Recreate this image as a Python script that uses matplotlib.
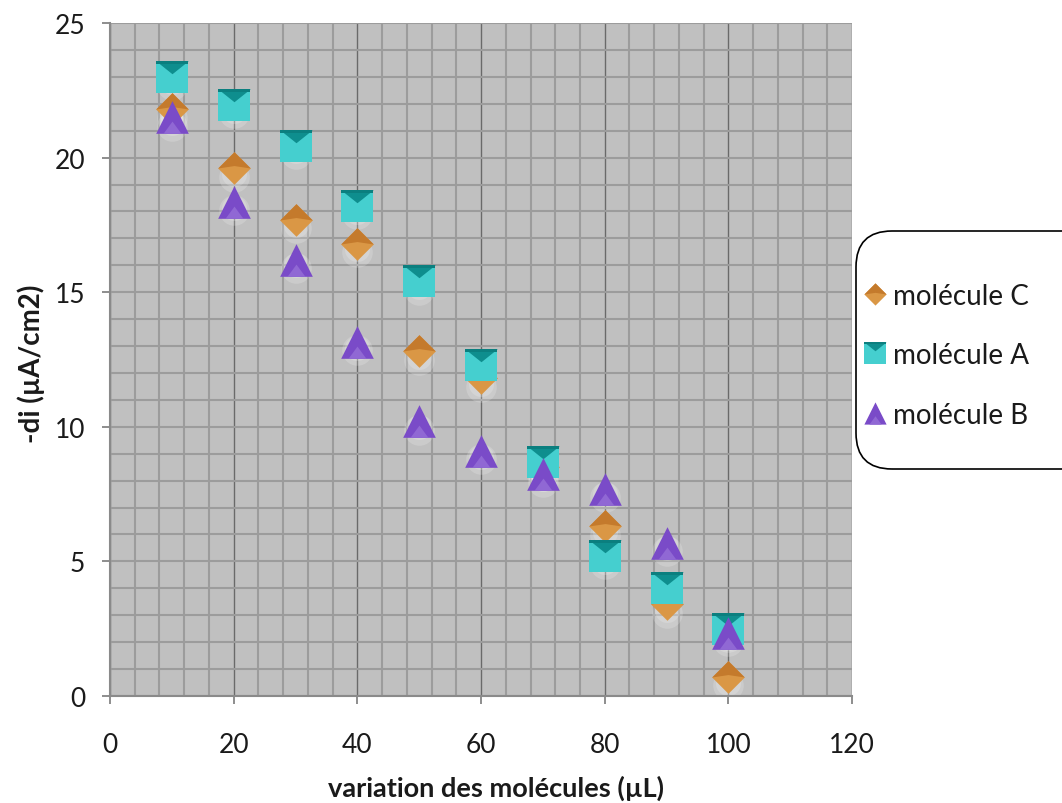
import matplotlib
matplotlib.use("Agg")
import matplotlib.pyplot as plt
from matplotlib.path import Path
from matplotlib.lines import Line2D
from matplotlib.patches import FancyBboxPatch
from matplotlib.ticker import MultipleLocator
from matplotlib.legend_handler import HandlerTuple
from matplotlib.transforms import offset_copy, IdentityTransform

plt.rcParams['font.family'] = ['Lato', 'DejaVu Sans']

# volumes added (µL)
volumes = [10, 20, 30, 40, 50, 60, 70, 80, 90, 100]
# -di (µA/cm2) per molecule
mol_c = [21.8, 19.6, 17.7, 16.8, 12.8, 11.8, 8.5, 6.3, 3.4, 0.7]
mol_a = [23.0, 21.95, 20.45, 18.2, 15.4, 12.3, 8.7, 5.2, 4.0, 2.5]
mol_b = [21.5, 18.35, 16.2, 13.15, 10.2, 9.1, 8.25, 7.7, 5.7, 2.35]

series_names = ["molécule C", "molécule A", "molécule B"]
x_ticks = [0, 20, 40, 60, 80, 100, 120]
y_ticks = [0, 5, 10, 15, 20, 25]

def shape(verts):
    return Path(verts + [verts[0]], closed=True)

# marker shapes (base + shading facet)
SQUARE = shape([(-1, -1), (1, -1), (1, 1), (-1, 1)])
SQUARE_TOP = shape([(-1, 1), (1, 1), (0, 0.2)])
SQUARE_BAND = shape([(-1, 1), (1, 1), (1, 0.8), (-1, 0.8)])
DIAMOND = shape([(0, 1), (1, 0), (0, -1), (-1, 0)])
DIAMOND_TOP = shape([(0, 1), (1, 0), (0, 0.15), (-1, 0)])
TRIANGLE = shape([(0, 1), (1, -1), (-1, -1)])
TRIANGLE_LOW = shape([(-0.55, -1), (0.55, -1), (0, -0.25)])

styles = {
    "molécule C": [(DIAMOND, "#DA9745"), (DIAMOND_TOP, "#C47A2C")],
    "molécule A": [(SQUARE, "#45CFCF"), (SQUARE_TOP, "#0E8E8E"), (SQUARE_BAND, "#0B7F7F")],
    "molécule B": [(TRIANGLE, "#7A4BC8"), (TRIANGLE_LOW, "#9068D4")],
}
data = {"molécule C": mol_c, "molécule A": mol_a, "molécule B": mol_b}

fig = plt.figure(figsize=(10.62, 8.04), dpi=100)
fig.patch.set_facecolor("white")
ax = fig.add_axes([0.1036, 0.1331, 0.6987, 0.8370])
ax.set_facecolor("#C0C0C0")
ax.set_xlim(0, 120)
ax.set_ylim(0, 25)

ax.xaxis.set_major_locator(MultipleLocator(20))
ax.xaxis.set_minor_locator(MultipleLocator(4))
ax.yaxis.set_major_locator(MultipleLocator(5))
ax.yaxis.set_minor_locator(MultipleLocator(1))
ax.grid(which="minor", color="#9C9C9C", lw=1.5)
ax.grid(which="major", axis="y", color="#9C9C9C", lw=1.5)
ax.grid(which="major", axis="x", color="#6A6A6A", lw=1.0)
ax.set_axisbelow(True)

for s in ("top", "right"):
    ax.spines[s].set_visible(False)
for s in ("left", "bottom"):
    ax.spines[s].set_color("#8A8A8A")
    ax.spines[s].set_linewidth(1.5)

ax.tick_params(which="minor", length=0)
ax.tick_params(which="major", direction="out", length=6, width=1.2,
               color="#7A7A7A", labelsize=19, labelcolor="#1A1A1A")
ax.tick_params(axis="y", pad=12)
ax.tick_params(axis="x", pad=20)
ax.set_xticks(x_ticks)
ax.set_yticks(y_ticks)

ax.set_xlabel("variation des molécules (µL)", fontsize=19.5, fontweight="bold",
              color="#1A1A1A")
ax.set_ylabel("-di (µA/cm2)", fontsize=20, fontweight="bold",
              color="#1A1A1A")
ax.xaxis.set_label_coords(0.52, -0.117, transform=ax.transAxes)
ax.yaxis.set_label_coords(-0.088, 0.495, transform=ax.transAxes)

# soft light halo under each marker
for dy, a, s in ((-6, 0.18, 22), (-4, 0.18, 18)):
    halo = offset_copy(ax.transData, fig=fig, x=0, y=dy, units="points")
    for name in series_names:
        ax.plot(volumes, data[name], ls="none", marker="o", ms=s, mew=0,
                color="white", alpha=a, transform=halo, zorder=2)

MS = 23.5
for i, name in enumerate(series_names):
    for j, (path, col) in enumerate(styles[name]):
        ax.plot(volumes, data[name], ls="none", marker=path, ms=MS, mew=0,
                color=col, zorder=3 + i + 0.1 * j)

# legend with layered markers
handles = []
for name in series_names:
    layers = tuple(Line2D([], [], ls="none", marker=p, ms=16, mew=0, color=c)
                   for p, c in styles[name])
    handles.append(layers)

leg = fig.legend(handles, series_names, loc="center left",
                 bbox_to_anchor=(0.789, 0.557), frameon=False, fontsize=20,
                 handler_map={tuple: HandlerTuple(ndivide=1, pad=0)},
                 handlelength=0.9, handletextpad=0.2, labelspacing=1.2,
                 labelcolor="#1A1A1A")

# rounded frame around the legend, running off the right edge
box = FancyBboxPatch((856, 804 - 470), 260, 238,
                     boxstyle="round,pad=0,rounding_size=36",
                     transform=IdentityTransform(), facecolor="none",
                     edgecolor="black", lw=1.2, clip_on=False)
fig.patches.append(box)

fig.savefig("out.png", dpi=100)
